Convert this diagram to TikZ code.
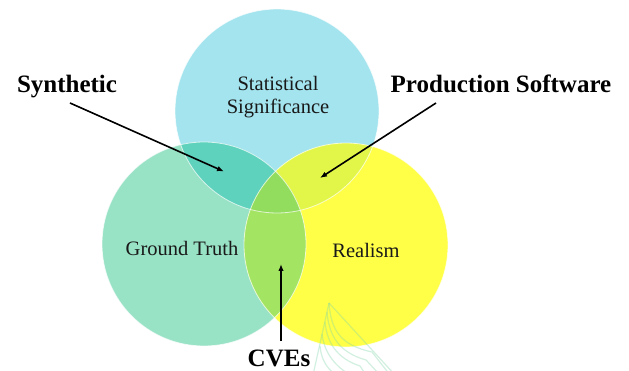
\documentclass[tikz,border=0pt]{standalone}
\usepackage{fontspec}
\setmainfont{Liberation Serif}
\usetikzlibrary{arrows.meta}
\definecolor{ctop}{HTML}{A3E4EE}
\definecolor{cleft}{HTML}{98E2C6}
\definecolor{cright}{HTML}{FFFF47}
\definecolor{ctl}{HTML}{5ED2BC}
\definecolor{ctr}{HTML}{E2F64A}
\definecolor{clr}{HTML}{A3E463}
\definecolor{call}{HTML}{92DD5E}
\definecolor{wmark}{HTML}{7FD6A8}
\tikzset{
  rim/.style={draw=white,line width=0.8pt},
  inlabel/.style={font=\fontsize{20.5}{22.5}\selectfont,align=center,text=black!90,inner sep=0pt},
  outlabel/.style={font=\fontsize{25}{27}\selectfont\bfseries,text=black,inner sep=0pt,anchor=base},
  arr/.style={line width=1.6pt,-{Latex[length=7pt,width=5.5pt]}},
  wm/.style={draw=wmark,opacity=0.35,line width=1.2pt}
}
\begin{document}
\begin{tikzpicture}[x=1pt,y=-1pt]
\useasboundingbox (0,0) rectangle (629,371);
\fill[white] (0,0) rectangle (629,371);
\coordinate (T) at (277,111);
\coordinate (L) at (204,244);
\coordinate (R) at (346,245);
% circles
\fill[ctop] (T) circle[radius=102pt];
\fill[cleft] (L) circle[radius=102pt];
\fill[cright] (R) circle[radius=102pt];
\begin{scope}
  \clip (T) circle[radius=102pt];
  \fill[ctl] (L) circle[radius=102pt];
  \fill[ctr] (R) circle[radius=102pt];
\end{scope}
\begin{scope}
  \clip (L) circle[radius=102pt];
  \fill[clr] (R) circle[radius=102pt];
  \clip (T) circle[radius=102pt];
  \fill[call] (R) circle[radius=102pt];
\end{scope}
\draw[rim,opacity=0.7] (T) circle[radius=102pt];
\draw[rim,opacity=0.7] (L) circle[radius=102pt];
\draw[rim,opacity=0.7] (R) circle[radius=102pt];
% faint watermark
\begin{scope}
  \clip (0,0) rectangle (629,371);
  \coordinate (wA) at (329,303);
  \draw[wm] (wA) -- (313,375);
  \draw[wm] (wA) -- (395,375);
  \draw[wm] (wA) .. controls (331,330) and (340,345) .. (372,352) -- (390,375);
  \draw[wm] (327,312) .. controls (329,335) and (338,352) .. (366,360) -- (380,375);
  \draw[wm] (325,322) .. controls (327,342) and (336,358) .. (360,366) -- (366,375);
  \draw[wm] (322,334) .. controls (324,350) and (332,364) .. (350,375);
  \draw[wm] (320,346) .. controls (321,358) and (326,368) .. (336,375);
\end{scope}
% inner labels
\node[inlabel] (stat) at (278,97) {Statistical\\Significance};
\node[inlabel,anchor=base] (gt) at (182,256) {Ground Truth};
\node[inlabel,anchor=base] (real) at (366,258) {Realism};
% outer labels
\node[outlabel] (syn) at (67,93) {Synthetic};
\node[outlabel] (prod) at (501,93) {Production Software};
\node[outlabel] (cve) at (279,366) {CVEs};
% arrows
\coordinate (synS) at (70,103);
\coordinate (synE) at (224,171.5);
\coordinate (prodS) at (436,103);
\coordinate (prodE) at (320,178);
\coordinate (cveS) at (281,341);
\coordinate (cveE) at (281,264);
\draw[arr] (synS) -- (synE);
\draw[arr] (prodS) -- (prodE);
\draw[arr] (cveS) -- (cveE);
\end{tikzpicture}
\end{document}
